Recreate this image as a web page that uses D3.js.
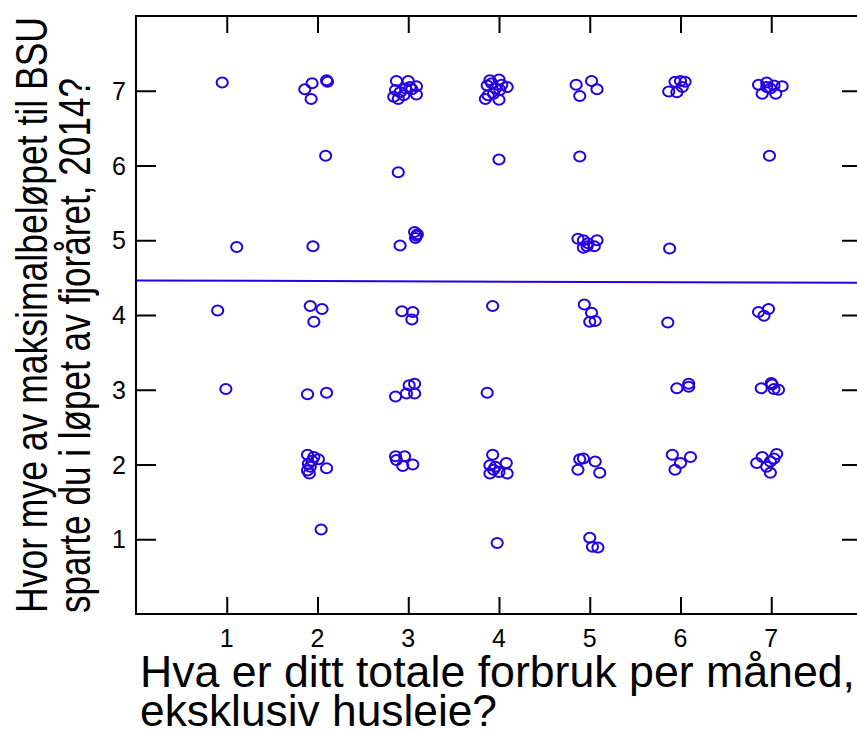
<!DOCTYPE html>
<html lang="no">
<head>
<meta charset="UTF-8">
<title>BSU vs forbruk</title>
<style>
  body { margin: 0; background: #fff; }
  .frame { fill: none; stroke: #000; stroke-width: 2px; }
  .tick line { stroke: #000; stroke-width: 2px; }
  .ticklabel { font-family: "Liberation Sans", Arial, sans-serif; font-size: 25px; fill: #000; }
  .title { font-family: "Liberation Sans", Arial, sans-serif; font-size: 45px; fill: #000; }
  .pt { fill: none; stroke: #2600e0; stroke-width: 2px; }
  .fit { stroke: #2600e0; stroke-width: 2px; }
</style>
</head>
<body>
<svg width="857" height="731"></svg>
<script src="https://cdn.jsdelivr.net/npm/d3@7"></script>
<script>
(function() {
    'use strict';

    // jittered responses (x = forbruk, y = BSU)
    var xVals = [
        0.95,
        1.86, 1.94, 1.93, 2.10, 2.11,
        2.87, 3.00, 3.09, 2.86, 2.91, 2.97, 3.04, 2.84, 2.89, 2.95, 3.09, 3.02,
        3.90, 4.00, 4.09, 3.87, 3.96, 4.01, 3.88, 3.94, 4.00, 3.85, 3.92, 4.03,
        4.85, 5.02, 5.08, 4.89,
        5.94, 6.00, 6.05, 5.87, 5.96, 6.02,
        6.86, 6.95, 7.03, 7.12, 6.90, 7.05, 6.99, 6.95,
        2.09, 2.89, 4.00, 4.89, 6.98,
        1.11, 1.95, 2.91, 3.07, 3.09, 3.08, 3.10, 4.87, 4.93, 4.98, 5.08, 4.93, 5.05, 4.97, 5.88,
        0.90, 1.92, 2.05, 1.96, 2.93, 3.05, 3.04, 3.93, 4.94, 5.02, 5.00, 5.06, 5.86, 6.86, 6.97, 6.92,
        0.99, 1.89, 2.10, 2.86, 2.98, 3.01, 3.07, 3.07, 3.87, 5.96, 6.09, 6.09, 6.89, 7.00, 7.03, 7.08, 7.01,
        1.89, 1.96, 2.01, 1.90, 1.92, 1.89, 1.91, 2.10, 1.94,
        2.86, 2.96, 2.87, 2.94, 3.05,
        3.93, 4.08, 3.90, 3.96, 3.90, 4.00, 4.09, 3.94,
        4.89, 4.93, 5.06, 4.87, 5.11,
        5.91, 6.11, 6.00, 5.94,
        6.90, 7.06, 6.84, 6.99, 7.03, 6.95, 6.99,
        2.04, 3.98, 5.00, 5.03, 5.09
    ];
    var yVals = [
        7.11,
        7.02, 7.10, 6.89, 7.14, 7.12,
        7.13, 7.13, 7.06, 7.01, 6.98, 7.03, 7.02, 6.92, 6.89, 6.94, 6.95, 7.05,
        7.14, 7.15, 7.05, 7.07, 7.03, 7.01, 6.94, 6.96, 6.88, 6.89, 7.10, 7.08,
        7.08, 7.13, 7.02, 6.93,
        7.12, 7.13, 7.12, 6.99, 6.98, 7.05,
        7.08, 7.11, 7.07, 7.06, 6.96, 6.96, 7.03, 7.05,
        6.13, 5.91, 6.08, 6.12, 6.13,
        4.91, 4.92, 4.93, 5.11, 5.06, 5.03, 5.08, 5.02, 5.00, 4.96, 5.00, 4.90, 4.92, 4.92, 4.89,
        4.06, 4.12, 4.08, 3.91, 4.05, 4.04, 3.94, 4.12, 4.14, 4.03, 3.91, 3.92, 3.90, 4.04, 4.08, 3.99,
        3.01, 2.94, 2.96, 2.91, 2.95, 3.06, 3.08, 2.95, 2.96, 3.02, 3.08, 3.04, 3.02, 3.09, 3.01, 3.00, 3.07,
        2.13, 2.10, 2.07, 2.01, 1.97, 1.92, 1.88, 1.95, 2.05,
        2.11, 2.11, 2.06, 1.98, 2.00,
        2.13, 2.02, 1.99, 1.97, 1.88, 1.90, 1.88, 1.93,
        2.07, 2.08, 2.04, 1.93, 1.89,
        2.13, 2.10, 2.02, 1.93,
        2.10, 2.14, 2.02, 2.04, 2.08, 1.97, 1.89,
        1.13, 0.95, 1.02, 0.90, 0.89
    ];

    // fitted regression line, end points
    var fitX = [0, 8];
    var fitY = [4.462, 4.430];

    var tickVals = [1, 2, 3, 4, 5, 6, 7];
    var xTitle = ["Hva er ditt totale forbruk per måned,", "eksklusiv husleie?"];
    var yTitle = ["Hvor mye av maksimalbeløpet til BSU", "sparte du i løpet av fjoråret, 2014?"];
    // widths the title lines take up in the reference (font there is a narrow one)
    var xTitleLen = [715, 357];
    var yTitleLen = [596, 535];

    var LEFT = 136, RIGHT = 862, TOP = 16, BOTTOM = 614;
    var TICK_X = 17, TICK_Y = 20;

    var x = d3.scaleLinear().domain([0, 8]).range([LEFT, RIGHT]);
    var y = d3.scaleLinear().domain([0, 8]).range([BOTTOM, TOP]);

    var svg = d3.select("svg");

    svg.append("g").selectAll("ellipse")
        .data(d3.range(xVals.length))
        .enter()
        .append("ellipse")
        .attr("class", "pt")
        .attr("cx", function(i) { return x(xVals[i]); })
        .attr("cy", function(i) { return y(yVals[i]); })
        .attr("rx", 5.6)
        .attr("ry", 5.0);

    svg.append("line")
        .attr("class", "fit")
        .attr("x1", x(fitX[0])).attr("y1", y(fitY[0]))
        .attr("x2", x(fitX[1])).attr("y2", y(fitY[1]));

    // ticks pointing inward on all four sides
    function noDomain(g) { g.select(".domain").remove(); }
    svg.append("g").attr("class", "tick")
        .attr("transform", "translate(0," + BOTTOM + ")")
        .call(d3.axisTop(x).tickValues(tickVals).tickSize(TICK_X).tickFormat(""))
        .call(noDomain);
    svg.append("g").attr("class", "tick")
        .attr("transform", "translate(0," + TOP + ")")
        .call(d3.axisBottom(x).tickValues(tickVals).tickSize(TICK_X).tickFormat(""))
        .call(noDomain);
    svg.append("g").attr("class", "tick")
        .attr("transform", "translate(" + LEFT + ",0)")
        .call(d3.axisRight(y).tickValues(tickVals).tickSize(TICK_Y).tickFormat(""))
        .call(noDomain);
    svg.append("g").attr("class", "tick")
        .attr("transform", "translate(" + RIGHT + ",0)")
        .call(d3.axisLeft(y).tickValues(tickVals).tickSize(TICK_Y).tickFormat(""))
        .call(noDomain);

    svg.append("rect")
        .attr("class", "frame")
        .attr("x", LEFT).attr("y", TOP)
        .attr("width", RIGHT - LEFT).attr("height", BOTTOM - TOP);

    // tick labels
    svg.append("g").selectAll("text")
        .data(tickVals)
        .enter()
        .append("text")
        .attr("class", "ticklabel")
        .attr("x", function(d) { return x(d); })
        .attr("y", 647)
        .attr("text-anchor", "middle")
        .text(function(d) { return d; });

    svg.append("g").selectAll("text")
        .data(tickVals)
        .enter()
        .append("text")
        .attr("class", "ticklabel")
        .attr("x", 126)
        .attr("y", function(d) { return y(d) + 9; })
        .attr("text-anchor", "end")
        .text(function(d) { return d; });

    // axis titles
    svg.append("g").selectAll("text")
        .data(xTitle)
        .enter()
        .append("text")
        .attr("class", "title")
        .attr("x", 140)
        .attr("y", function(d, i) { return 687 + i * 39; })
        .attr("textLength", function(d, i) { return xTitleLen[i]; })
        .attr("lengthAdjust", "spacingAndGlyphs")
        .text(function(d) { return d; });

    svg.append("g").selectAll("text")
        .data(yTitle)
        .enter()
        .append("text")
        .attr("class", "title")
        .attr("transform", function(d, i) { return "translate(" + (47 + i * 43) + ",613) rotate(-90)"; })
        .attr("textLength", function(d, i) { return yTitleLen[i]; })
        .attr("lengthAdjust", "spacingAndGlyphs")
        .text(function(d) { return d; });
})();
</script>
</body>
</html>
